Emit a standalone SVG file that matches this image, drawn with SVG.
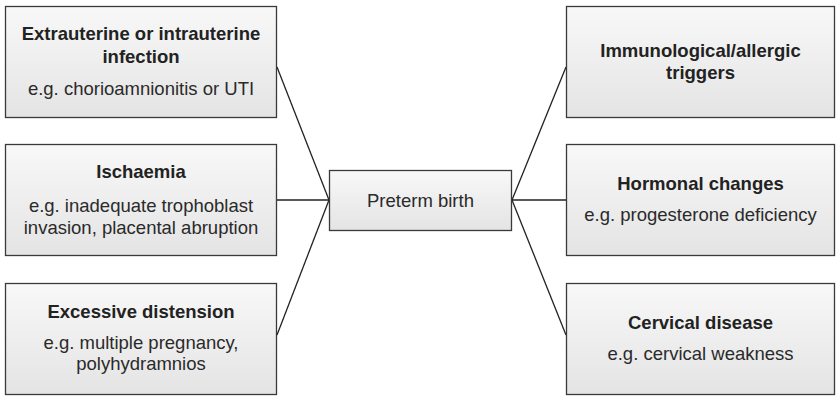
<svg xmlns="http://www.w3.org/2000/svg" width="838" height="396" viewBox="0 0 838 396">
<defs>
<linearGradient id="g" x1="0" y1="0" x2="0" y2="1">
<stop offset="0" stop-color="#f8f8f8"/>
<stop offset="1" stop-color="#e4e4e4"/>
</linearGradient>
<style>
.box{fill:url(#g);stroke:#3a3a3a;stroke-width:1.3}
.t{font-family:"Liberation Sans",Arial,sans-serif;font-size:18.5px;font-weight:bold;fill:#222;text-anchor:middle}
.s{font-family:"Liberation Sans",Arial,sans-serif;font-size:18.5px;fill:#2a2a2a;text-anchor:middle}
.c{stroke:#222;stroke-width:1.3;fill:none}
</style>
</defs>
<rect width="838" height="396" fill="#fff"/>
<g id="connectors">
<line class="c" x1="277" y1="67" x2="329" y2="200"/>
<line class="c" x1="277" y1="200" x2="329" y2="200"/>
<line class="c" x1="277" y1="335" x2="329" y2="200"/>
<line class="c" x1="512" y1="200" x2="566" y2="67"/>
<line class="c" x1="512" y1="200" x2="566" y2="200"/>
<line class="c" x1="512" y1="200" x2="566" y2="335"/>
</g>
<g id="n1">
<rect class="box" x="5.5" y="6.5" width="271" height="111"/>
<text class="t" x="141" y="40">Extrauterine or intrauterine</text>
<text class="t" x="141" y="63">infection</text>
<text class="s" x="141" y="95">e.g. chorioamnionitis or UTI</text>
</g>
<g id="n2">
<rect class="box" x="5.5" y="144.5" width="271" height="111"/>
<text class="t" x="141" y="177.5">Ischaemia</text>
<text class="s" x="141" y="212">e.g. inadequate trophoblast</text>
<text class="s" x="141" y="233.5">invasion, placental abruption</text>
</g>
<g id="n3">
<rect class="box" x="5.5" y="283.5" width="271" height="111"/>
<text class="t" x="141" y="318">Excessive distension</text>
<text class="s" x="141" y="348.5">e.g. multiple pregnancy,</text>
<text class="s" x="141" y="370">polyhydramnios</text>
</g>
<g id="center">
<rect class="box" x="329.5" y="170.5" width="182" height="60"/>
<text class="s" x="420.5" y="206.5">Preterm birth</text>
</g>
<g id="n4">
<rect class="box" x="566.5" y="6.5" width="268" height="111"/>
<text class="t" x="700.5" y="56.5">Immunological/allergic</text>
<text class="t" x="700.5" y="78.5">triggers</text>
</g>
<g id="n5">
<rect class="box" x="566.5" y="144.5" width="268" height="111"/>
<text class="t" x="700.5" y="190">Hormonal changes</text>
<text class="s" x="700.5" y="221">e.g. progesterone deficiency</text>
</g>
<g id="n6">
<rect class="box" x="566.5" y="283.5" width="268" height="111"/>
<text class="t" x="700.5" y="329">Cervical disease</text>
<text class="s" x="700.5" y="360">e.g. cervical weakness</text>
</g>
</svg>
